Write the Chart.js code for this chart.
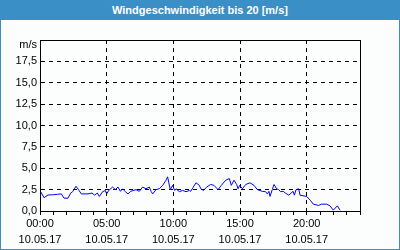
<!DOCTYPE html>
<html>
<head>
<meta charset="utf-8">
<script src="https://cdn.jsdelivr.net/npm/chart.js@4/dist/chart.umd.min.js"></script>
<style>
  body { margin: 0; background: #fff; }
  #title {
    width: 400px; height: 20px; background: #3b8fc7; color: #fff;
    font: bold 11px "Liberation Sans", sans-serif; text-align: center; line-height: 20px;
  }
  #box {
    width: 398px; height: 229px; border: 1px solid #3b8fc7; border-top: none;
    background: #fcfefd;
  }
</style>
</head>
<body>
<div id="title">Windgeschwindigkeit bis 20 [m/s]</div>
<div id="box"><canvas id="windChart" width="398" height="229"></canvas></div>
<script>
// hours since 00:00 on 10.05.17
var hours = [0.05, 0.3, 0.6, 1.0, 1.3, 1.6, 1.8, 2.1, 2.3, 2.45, 2.7, 2.95, 3.1, 3.6, 3.9, 4.1, 4.3, 4.45, 4.7, 4.9,
  5.0, 5.15, 5.45, 5.65, 5.85, 6.03, 6.2, 6.4, 6.6, 6.8, 7.2, 7.45, 7.7, 7.95, 8.2, 8.33, 8.45, 8.7, 8.95, 9.2,
  9.45, 9.57, 9.77, 9.95, 10.1, 10.2, 10.45, 10.7, 10.95, 11.2, 11.3, 11.5, 11.7, 11.95, 12.06, 12.26, 12.5, 12.8, 13.05, 13.35,
  13.6, 13.93, 14.2, 14.35, 14.55, 14.75, 14.85, 14.98, 15.18, 15.43, 15.75, 16.05, 16.3, 16.67, 16.92, 17.05, 17.17, 17.25, 17.42, 17.55,
  17.75, 17.9, 18.04, 18.24, 18.4, 18.66, 18.83, 18.98, 19.08, 19.2, 19.4, 19.5, 20.0, 20.3, 20.5, 20.9, 21.1, 21.5, 21.75, 22.0,
  22.3, 22.5];
var speeds = [2.26, 1.56, 1.87, 1.9, 1.95, 2.0, 1.5, 1.5, 2.1, 2.26, 2.9, 2.35, 2.0, 2.0, 2.1, 1.85, 2.1, 1.7, 2.26, 2.4,
  2.0, 2.4, 2.8, 2.5, 2.8, 2.3, 2.6, 2.26, 2.0, 2.3, 2.5, 2.3, 2.8, 2.6, 2.8, 2.3, 2.0, 2.5, 2.6, 3.0,
  3.6, 4.0, 2.5, 3.0, 2.4, 2.6, 2.26, 2.4, 2.26, 2.4, 2.3, 2.8, 3.3, 3.0, 2.6, 2.4, 2.8, 3.1, 3.0, 2.5,
  3.0, 3.6, 3.8, 3.0, 3.6, 3.1, 2.6, 3.0, 2.6, 3.1, 3.3, 3.0, 2.5, 2.3, 2.26, 2.0, 2.3, 1.7, 2.5, 3.1,
  2.6, 2.5, 2.26, 2.3, 2.1, 1.85, 2.1, 2.3, 1.85, 2.5, 2.6, 1.85, 1.7, 1.2, 0.8, 0.65, 0.8, 0.8, 0.6, 0.1,
  0.6, 0.1];
var dateLabel = '10.05.17';
var unitLabel = 'm/s';

var points = hours.map(function (h, i) { return {x: h, y: speeds[i]}; });

var tickFont = {family: '"Liberation Sans", sans-serif', size: 11, lineHeight: 1.45};

// box round the plot area and the unit label at the top of the y axis
var frame = {
  id: 'frame',
  afterDraw: function (chart) {
    var a = chart.chartArea, ctx = chart.ctx;
    ctx.save();
    ctx.strokeStyle = '#000';
    ctx.lineWidth = 1;
    ctx.strokeRect(Math.round(a.left) + 0.5, Math.round(a.top) + 0.5,
      Math.round(a.right - a.left), Math.round(a.bottom - a.top));
    ctx.fillStyle = '#000';
    ctx.font = '11px "Liberation Sans", sans-serif';
    ctx.textAlign = 'right';
    ctx.textBaseline = 'middle';
    ctx.fillText(unitLabel, a.left - 3, a.top + 5);
    ctx.restore();
  }
};

var ctx = document.getElementById('windChart').getContext('2d');
var windChart = new Chart(ctx, {
  type: 'line',
  data: {
    datasets: [{
      data: points,
      borderColor: '#0000ff',
      borderWidth: 1,
      pointRadius: 0,
      tension: 0,
      fill: false
    }]
  },
  options: {
    responsive: false,
    animation: false,
    layout: {padding: {left: 0, right: 39, top: 20, bottom: 1}},
    plugins: {legend: {display: false}, tooltip: {enabled: false}},
    scales: {
      x: {
        type: 'linear', min: 0, max: 24,
        afterFit: function (s) { s.height = 37; },
        ticks: {
          stepSize: 1, autoSkip: false, maxRotation: 0, padding: 1,
          color: '#000', font: tickFont,
          callback: function (v) {
            if (v % 5 !== 0) return '';
            return [(v < 10 ? '0' : '') + v + ':00', dateLabel];
          }
        },
        grid: {
          color: function (c) {
            var v = c.tick && c.tick.value;
            return (v % 5 === 0 && v > 0 && v < 24) ? '#000' : 'rgba(0,0,0,0)';
          },
          tickColor: '#000', tickLength: 4, lineWidth: 1
        },
        border: {color: '#000', dash: [4, 4]}
      },
      y: {
        min: 0, max: 20,
        afterFit: function (s) { s.width = 39; },
        ticks: {
          stepSize: 2.5, padding: 3, color: '#000', font: tickFont,
          callback: function (v) {
            if (v === 20) return '';
            return v.toFixed(1).replace('.', ',');
          }
        },
        grid: {
          color: function (c) {
            var v = c.tick && c.tick.value;
            return (v > 0 && v < 20) ? '#000' : 'rgba(0,0,0,0)';
          },
          drawTicks: false, lineWidth: 1
        },
        border: {color: '#000', dash: [4, 4]}
      }
    }
  },
  plugins: [frame]
});
</script>
</body>
</html>
